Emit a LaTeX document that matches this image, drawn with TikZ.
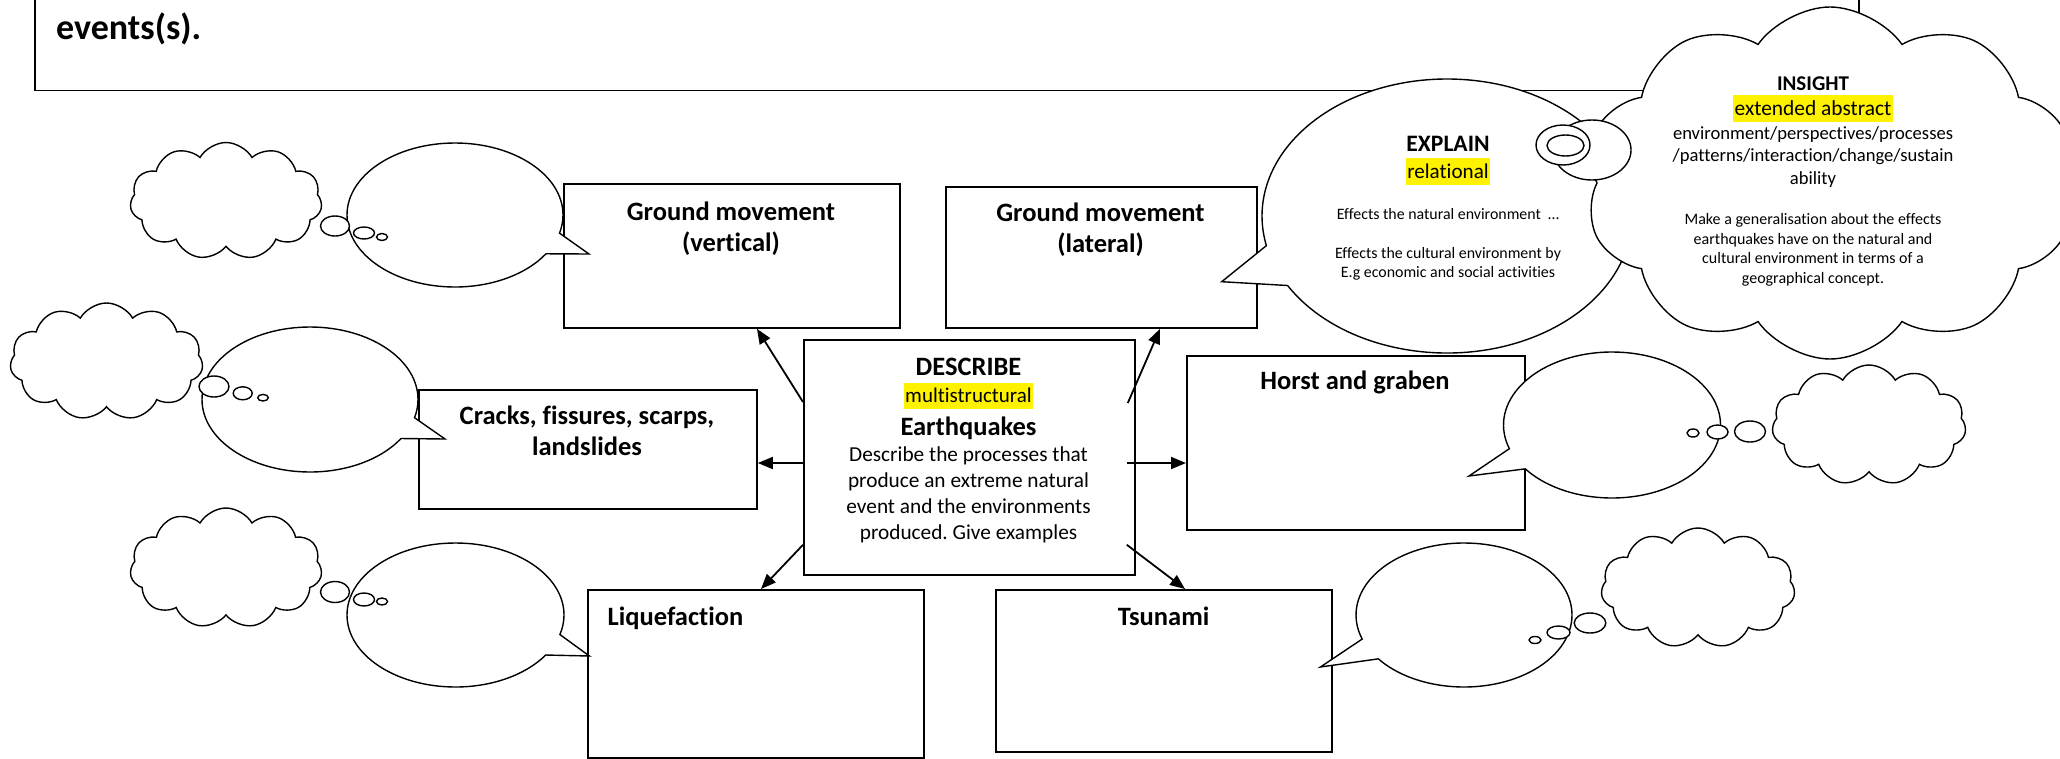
\documentclass[tikz,border=0pt]{standalone}
\usepackage{fontspec}
\setmainfont{Carlito}[Ligatures=NoCommon]
\usetikzlibrary{arrows.meta,calc,shapes.callouts,shapes.symbols}
\setlength{\lineskiplimit}{-100pt}
\frenchspacing
\newcommand{\hilite}[1]{{\setlength{\fboxsep}{0pt}\colorbox{yellow}{\rule[-.3em]{0pt}{1.25em}\hspace{.07em}#1\hspace{.07em}}}}

\begin{document}
\begin{tikzpicture}[x=1pt,y=-1pt,
  box/.style={draw,line width=1.8pt,inner sep=0pt,anchor=north west},
  arr/.style={line width=1.8pt,-{Triangle[length=15pt,width=12pt]}},
  bubble/.style={ellipse callout,draw,fill=white,line width=1.4pt,inner sep=0pt,callout pointer arc=18},
  thought/.style={cloud,draw,fill=white,line width=1.4pt,inner sep=0pt,cloud puffs=11,cloud puff arc=120,aspect=1.64},
  puff/.style={draw,fill=white,line width=1.4pt},
  hd/.style={font=\fontsize{26.5}{31}\selectfont\bfseries,inner sep=0pt,align=center}]
\useasboundingbox (0,0) rectangle (2060,758);
\draw[line width=1.8pt] (35,-10) -- (35,90.5) -- (1859,90.5) -- (1859,-10);
\node[font=\fontsize{36}{40}\selectfont\bfseries,anchor=base west,inner sep=0pt] (ttl) at (56,39.3) {events(s).};

\node[box,minimum width=336pt,minimum height=144pt] (gmv) at (563,183) {};
\node[box,minimum width=311pt,minimum height=141pt] (gml) at (945,186) {};
\node[box,minimum width=331pt,minimum height=235pt] (desc) at (803,339) {};
\node[box,minimum width=338pt,minimum height=119pt] (crk) at (418,389) {};
\node[box,minimum width=338pt,minimum height=174pt] (hrs) at (1186,355) {};
\node[box,minimum width=336pt,minimum height=168pt] (liq) at (587,589) {};
\node[box,minimum width=336pt,minimum height=162pt] (tsu) at (995,589) {};

\node[hd,anchor=north] (gmvt) at (731,194.2) {\rule{0pt}{1em}Ground movement\\(vertical)};
\node[hd,anchor=north] (gmlt) at (1100.5,194.5) {\rule{0pt}{1em}Ground movement\\(lateral)};
\node[hd,anchor=north] (crkt) at (587,397.5) {\rule{0pt}{1em}Cracks, fissures, scarps,\\landslides};
\node[hd,anchor=base] (hrst) at (1355,389.5) {Horst and graben};
\node[hd,anchor=base west] (liqt) at (607.5,625) {Liquefaction};
\node[hd,anchor=base] (tsut) at (1163.5,625) {Tsunami};
\node[font=\fontsize{21.3}{26}\selectfont,align=center,inner sep=0pt,anchor=north] (desct) at (968.5,349.2)
  {{\bfseries\fontsize{26.5}{26}\selectfont\rule{0pt}{1em}DESCRIBE}\\[1pt]
   {\fontsize{21}{26}\selectfont\hilite{multistructural}}\\[6.3pt]
   {\bfseries\fontsize{26.5}{26}\selectfont Earthquakes}\\[0.7pt]
   Describe the processes that\\ produce an extreme natural\\ event and the environments\\ produced. Give examples};

\draw[arr] ($(desc.north west)+(0,63)$) -- ($(gmv.south west)+(194,0)$);
\draw[arr] ($(desc.north east)+(-8,64)$) -- ($(gml.south west)+(215,0)$);
\draw[arr] ($(desc.north west)+(0,124)$) -- ($(crk.north east)+(0,74)$);
\draw[arr] ($(desc.north east)+(-9,124)$) -- ($(hrs.north west)+(0,108)$);
\draw[arr] ($(desc.south west)+(0,-31)$) -- ($(liq.north west)+(174,0)$);
\draw[arr] ($(desc.south east)+(-9,-31)$) -- ($(tsu.north west)+(190,0)$);

\node[bubble,minimum width=216pt,minimum height=144pt,callout absolute pointer={(589,254)}] (sgmv) at (455,215) {};
\node[bubble,minimum width=216pt,minimum height=145pt,callout absolute pointer={(445,439)}] (scrk) at (310,399.5) {};
\node[bubble,minimum width=217pt,minimum height=144pt,callout absolute pointer={(589.4,656)}] (sliq) at (455.5,615) {};
\node[bubble,minimum width=217pt,minimum height=146pt,callout absolute pointer={(1469,476)}] (shrs) at (1612,425) {};
\node[bubble,minimum width=216pt,minimum height=144pt,callout absolute pointer={(1320.4,667)}] (stsu) at (1464,615) {};

\node[thought,minimum width=192pt,minimum height=117pt] (tgmv) at (226,201) {};
\draw[puff] (335,226) ellipse [x radius=14.5,y radius=10];
\draw[puff] (364,233) ellipse [x radius=10.5,y radius=6];
\draw[puff] (382,237) ellipse [x radius=5.5,y radius=3.5];
\node[thought,minimum width=193pt,minimum height=117pt] (tcrk) at (106.5,361.5) {};
\draw[puff] (214,386.5) ellipse [x radius=15,y radius=10.5];
\draw[puff] (242.7,393.3) ellipse [x radius=9.5,y radius=6.5];
\draw[puff] (263,397.7) ellipse [x radius=5.3,y radius=3.3];
\node[thought,minimum width=192pt,minimum height=120pt] (tliq) at (226,568) {};
\draw[puff] (335,592) ellipse [x radius=14.5,y radius=10.5];
\draw[puff] (364,599.5) ellipse [x radius=10.5,y radius=6.5];
\draw[puff] (382,601.5) ellipse [x radius=5.5,y radius=3.5];
\node[thought,minimum width=194pt,minimum height=120pt] (thrs) at (1869,425) {};
\draw[puff] (1750,431.5) ellipse [x radius=15.5,y radius=10.5];
\draw[puff] (1717.5,432) ellipse [x radius=10.5,y radius=7];
\draw[puff] (1693,433) ellipse [x radius=6,y radius=4];
\node[thought,minimum width=194pt,minimum height=120pt] (ttsu) at (1698,588) {};
\draw[puff] (1590,623) ellipse [x radius=15.8,y radius=10];
\draw[puff] (1558.5,632.5) ellipse [x radius=11.5,y radius=6.5];
\draw[puff] (1535,640) ellipse [x radius=6,y radius=3.5];

\node[bubble,minimum width=370pt,minimum height=274pt,callout absolute pointer={(1221.7,281.7)}] (expl) at (1447,216) {};
\node[thought,cloud puffs=10,cloud puff arc=110,aspect=1.4,minimum width=490pt,minimum height=352pt] (ins) at (1830,183) {};
\draw[puff] (1592,150) ellipse [x radius=39,y radius=30];
\draw[puff] (1563,145) ellipse [x radius=27,y radius=20];
\draw[puff] (1565.5,145.5) ellipse [x radius=18.5,y radius=10.5];

\node[font=\fontsize{15.9}{19}\selectfont,align=center,inner sep=0pt,anchor=north] (explt) at (1448,128.1)
  {{\bfseries\fontsize{23.6}{19}\selectfont\rule{0pt}{1em}EXPLAIN}\\[7.3pt]
   {\fontsize{21.1}{19}\selectfont\hilite{relational}}\\[22.3pt]
   Effects the natural environment\ \ …\\[20pt]
   Effects the cultural environment by\\ E.g economic and social activities};
\node[font=\fontsize{16}{19.7}\selectfont,align=center,inner sep=0pt,anchor=north] (inst) at (1813,69)
  {{\bfseries\fontsize{21}{19.7}\selectfont\rule{0pt}{1em}INSIGHT}\\[5.3pt]
   {\fontsize{21.4}{19.7}\selectfont\hilite{extended abstract}}\\[4.6pt]
   {\fontsize{18.6}{19.7}\selectfont environment/perspectives/processes}\\[2.7pt]
   {\fontsize{18.6}{19.7}\selectfont /patterns/interaction/change/sustain}\\[2.6pt]
   {\fontsize{18.6}{19.7}\selectfont ability}\\[20.6pt]
   Make a generalisation about the effects\\ earthquakes have on the natural and\\
   cultural environment in terms of a\\ geographical concept.};
\end{tikzpicture}
\end{document}
